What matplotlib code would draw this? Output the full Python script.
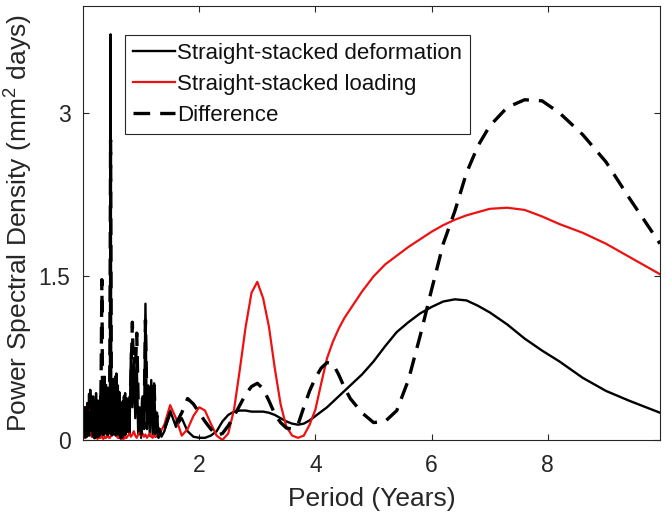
import matplotlib
matplotlib.use('Agg')
import matplotlib.pyplot as plt

# --- data ---
# short periods (dense, noisy part of the spectrum)
period_low = [0.025, 0.0375, 0.05, 0.0625, 0.075, 0.0875, 0.1, 0.1125, 0.125, 0.1375,
              0.15, 0.1625, 0.175, 0.1875, 0.2, 0.2125, 0.225, 0.2375, 0.25, 0.2625,
              0.275, 0.2875, 0.3, 0.3125, 0.325, 0.3375, 0.35, 0.3625, 0.375, 0.3875,
              0.4, 0.4125, 0.425, 0.4375, 0.45, 0.4625, 0.475, 0.4875, 0.5, 0.5125,
              0.525, 0.5375, 0.55, 0.5625, 0.575, 0.5875, 0.6, 0.6125, 0.625, 0.6375,
              0.65, 0.6625, 0.675, 0.6875, 0.7, 0.7125, 0.725, 0.7375, 0.75,
              0.775, 0.8, 0.825, 0.85, 0.875, 0.9, 0.925, 0.95, 0.975, 1.0,
              1.025, 1.05, 1.075, 1.1, 1.125, 1.15, 1.175, 1.2, 1.225, 1.25,
              1.275, 1.3, 1.325, 1.35]

deformation_low = [0.30, 0.02, 0.25, 0.03, 0.34, 0.05, 0.30, 0.04, 0.46, 0.06,
                   0.38, 0.03, 0.40, 0.05, 0.33, 0.02, 0.43, 0.06, 0.35, 0.03,
                   0.36, 0.05, 0.40, 0.04, 0.52, 0.06, 0.45, 0.05, 0.58, 0.08,
                   0.42, 0.05, 0.48, 0.06, 0.40, 0.10, 3.72, 0.08, 0.38, 0.05,
                   0.56, 0.06, 0.45, 0.04, 0.61, 0.08, 0.50, 0.05, 0.44, 0.03,
                   0.30, 0.02, 0.28, 0.04, 0.35, 0.03, 0.43, 0.05, 0.30,
                   0.38, 0.05, 0.80, 0.30, 0.75, 0.20, 0.72, 0.06, 0.30, 0.02,
                   0.40, 0.10, 1.25, 0.10, 0.50, 0.04, 0.55, 0.05, 0.52, 0.03,
                   0.25, 0.02, 0.10, 0.03]

loading_low = [0.02, 0.04, 0.06, 0.10, 0.15, 0.22, 0.28, 0.20, 0.12, 0.06,
               0.03, 0.04, 0.05, 0.03, 0.02, 0.03, 0.04, 0.02, 0.01, 0.02,
               0.03, 0.02, 0.02, 0.03, 0.04, 0.02, 0.01, 0.02, 0.03, 0.02,
               0.02, 0.04, 0.05, 0.03, 0.02, 0.02, 0.03, 0.04, 0.04, 0.05,
               0.07, 0.08, 0.09, 0.07, 0.05, 0.03, 0.02, 0.02, 0.03, 0.02,
               0.01, 0.02, 0.02, 0.01, 0.01, 0.02, 0.03, 0.02, 0.02,
               0.04, 0.06, 0.03, 0.05, 0.08, 0.04, 0.02, 0.05, 0.07, 0.04,
               0.06, 0.03, 0.05, 0.02, 0.04, 0.06, 0.03, 0.02, 0.04, 0.03,
               0.05, 0.06, 0.07, 0.09]

difference_low = [0.02, 0.28, 0.03, 0.30, 0.04, 0.33, 0.02, 0.42, 0.05, 0.40,
                  0.03, 0.38, 0.04, 0.36, 0.02, 0.40, 0.05, 0.38, 0.03, 0.33,
                  0.04, 0.35, 0.10, 0.60, 1.47, 0.30, 0.05, 0.50, 0.06, 0.55,
                  0.04, 0.45, 0.05, 0.42, 0.08, 0.70, 2.75, 0.60, 0.05, 0.50,
                  0.04, 0.52, 0.03, 0.58, 0.05, 0.48, 0.04, 0.40, 0.03, 0.33,
                  0.02, 0.26, 0.03, 0.35, 0.02, 0.40, 0.03, 0.38, 0.04,
                  0.35, 0.30, 0.55, 1.08, 0.45, 0.62, 0.98, 0.35, 0.28, 0.04,
                  0.38, 0.12, 1.10, 0.30, 0.48, 0.20, 0.52, 0.25, 0.50, 0.05,
                  0.22, 0.03, 0.08, 0.05]

# longer periods (smooth part)
period_high = [1.4, 1.5, 1.6, 1.7, 1.8, 1.9, 2.0, 2.1, 2.2, 2.3,
               2.4, 2.5, 2.6, 2.7, 2.8, 2.9, 3.0, 3.1, 3.2, 3.3,
               3.4, 3.5, 3.6, 3.7, 3.8, 3.9, 4.0, 4.1, 4.2, 4.3,
               4.4, 4.5, 4.6, 4.8, 5.0, 5.2, 5.4, 5.6, 5.8, 6.0,
               6.2, 6.4, 6.6, 6.8, 7.0, 7.3, 7.6, 7.9, 8.2, 8.6,
               9.0, 9.4, 9.93]

deformation_high = [0.08, 0.27, 0.12, 0.20, 0.08, 0.03, 0.02, 0.02, 0.04, 0.08,
                    0.17, 0.23, 0.26, 0.27, 0.27, 0.26, 0.26, 0.26, 0.25, 0.23,
                    0.20, 0.17, 0.15, 0.14, 0.15, 0.18, 0.22, 0.26, 0.30, 0.35,
                    0.40, 0.45, 0.50, 0.60, 0.72, 0.86, 0.99, 1.08, 1.16, 1.22,
                    1.27, 1.29, 1.28, 1.23, 1.17, 1.06, 0.93, 0.82, 0.72, 0.57,
                    0.45, 0.36, 0.25]

loading_high = [0.14, 0.32, 0.20, 0.04, 0.10, 0.22, 0.30, 0.27, 0.15, 0.04,
                0.00, 0.06, 0.28, 0.65, 1.04, 1.35, 1.45, 1.30, 1.04, 0.66,
                0.33, 0.12, 0.04, 0.02, 0.04, 0.14, 0.28, 0.52, 0.75, 0.90,
                1.02, 1.12, 1.20, 1.36, 1.50, 1.61, 1.69, 1.77, 1.84, 1.91,
                1.97, 2.02, 2.06, 2.09, 2.12, 2.13, 2.11, 2.05, 1.98, 1.90,
                1.80, 1.68, 1.52]

difference_high = [0.10, 0.25, 0.15, 0.25, 0.38, 0.33, 0.25, 0.17, 0.10, 0.04,
                   0.06, 0.13, 0.22, 0.32, 0.42, 0.49, 0.52, 0.47, 0.36, 0.24,
                   0.16, 0.11, 0.10, 0.14, 0.30, 0.45, 0.57, 0.66, 0.71, 0.70,
                   0.60, 0.48, 0.38, 0.25, 0.16, 0.17, 0.27, 0.55, 0.95, 1.38,
                   1.80, 2.10, 2.45, 2.70, 2.88, 3.05, 3.12, 3.11, 3.00, 2.80,
                   2.55, 2.22, 1.80]

period = period_low + period_high
deformation = deformation_low + deformation_high
loading = loading_low + loading_high
difference = difference_low + difference_high

plt.rcParams['font.family'] = ['Liberation Sans', 'DejaVu Sans']
plt.rcParams['mathtext.fontset'] = 'custom'
plt.rcParams['mathtext.rm'] = 'Liberation Sans'
plt.rcParams['mathtext.default'] = 'regular'

txt = '#262626'

fig = plt.figure(figsize=(6.66, 5.21), dpi=100)
ax = fig.add_axes([0.1246, 0.1555, 0.8664, 0.833])

ax.plot(period, deformation, color='black', lw=1.7,
        label='Straight-stacked deformation')
ax.plot(period, loading, color='#ee1111', lw=1.6,
        label='Straight-stacked loading')
ax.plot(period, difference, color='black', lw=2.4, linestyle=(0, (5, 3)),
        label='Difference')

ax.set_xlim(0, 9.93)
ax.set_ylim(0, 3.98)
ax.set_xticks([2, 4, 6, 8])
ax.set_yticks([0, 1.5, 3])
ax.set_yticklabels(['0', '1.5', '3'])

ax.tick_params(direction='in', top=True, right=True, length=4.5, width=0.8,
               labelsize=16.5, pad=10, colors=txt)
ax.tick_params(axis='y', pad=9)
for s in ax.spines.values():
    s.set_color(txt)
    s.set_linewidth(0.8)

ax.set_xlabel('Period (Years)', fontsize=19, color=txt)
ax.set_ylabel(r'Power Spectral Density (mm$^2$ days)', fontsize=19, color=txt)
ax.xaxis.set_label_coords(0.5, -0.108)
ax.yaxis.set_label_coords(-0.083, 0.5)

leg = ax.legend(loc='upper left', bbox_to_anchor=(0.073, 0.933),
                borderaxespad=0, fontsize=16, fancybox=False, framealpha=1,
                edgecolor=txt, handlelength=1.9, handletextpad=0.08,
                labelspacing=0.45, borderpad=0.35)
leg.get_frame().set_linewidth(0.8)
for t in leg.get_texts():
    t.set_color('#111111')

fig.savefig('out.png', dpi=100)
